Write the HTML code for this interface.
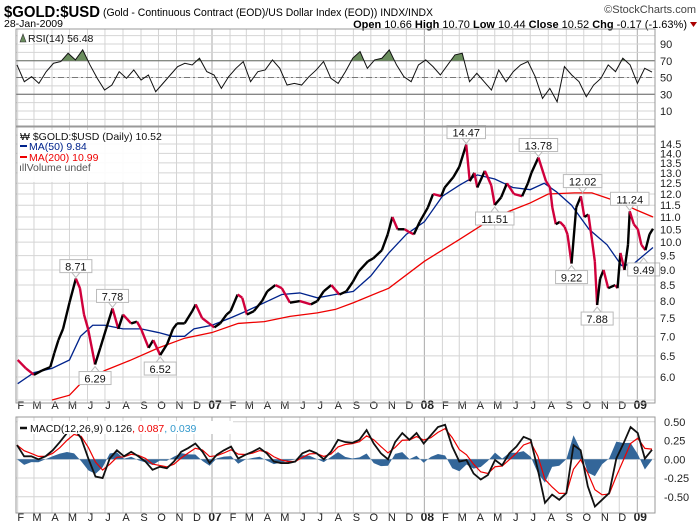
<!DOCTYPE html>
<html><head><meta charset="utf-8"><style>
body{margin:0;background:#fff;width:700px;height:530px;overflow:hidden;font-family:"Liberation Sans",sans-serif}
svg{position:absolute;left:0;top:0}
text{font-family:"Liberation Sans",sans-serif}
</style></head><body>
<svg id="c" width="700" height="530">
<text x="4" y="17" font-size="16" font-weight="bold" textLength="96" lengthAdjust="spacingAndGlyphs">$GOLD:$USD</text>
<text x="103" y="16" font-size="11" textLength="330" lengthAdjust="spacingAndGlyphs">(Gold - Continuous Contract (EOD)/US Dollar Index (EOD)) INDX/INDX</text>
<text x="696" y="13" font-size="11" fill="#444" text-anchor="end">©StockCharts.com</text>
<text x="4" y="27" font-size="10.5">28-Jan-2009</text>
<text x="687" y="28" font-size="11" text-anchor="end"><tspan font-weight="bold">Open</tspan> 10.66 <tspan font-weight="bold">High</tspan> 10.70 <tspan font-weight="bold">Low</tspan> 10.44 <tspan font-weight="bold">Close</tspan> 10.52 <tspan font-weight="bold">Chg</tspan> -0.17 (-1.63%)</text>
<path d="M690,22 L697,22 L693.5,27 Z" fill="#a00"/>
<g id="g"></g>
</svg>
<script>
// ---- data ----
const priceDates=["2006-02-01","2006-02-15","2006-03-01","2006-03-15","2006-03-29","2006-04-05","2006-04-12","2006-04-20","2006-05-01","2006-05-12","2006-05-19","2006-05-26","2006-06-02","2006-06-14","2006-06-23","2006-07-03","2006-07-14","2006-07-24","2006-08-01","2006-08-15","2006-08-25","2006-09-01","2006-09-14","2006-09-22","2006-10-04","2006-10-16","2006-10-26","2006-11-02","2006-11-15","2006-11-28","2006-12-04","2006-12-15","2006-12-27","2007-01-05","2007-01-15","2007-01-26","2007-02-02","2007-02-14","2007-02-22","2007-03-02","2007-03-14","2007-03-28","2007-04-06","2007-04-20","2007-05-01","2007-05-15","2007-06-01","2007-06-20","2007-07-01","2007-07-12","2007-07-25","2007-08-08","2007-08-20","2007-08-31","2007-09-10","2007-09-26","2007-10-05","2007-10-20","2007-10-30","2007-11-07","2007-11-16","2007-11-28","2007-12-05","2007-12-14","2007-12-24","2008-01-07","2008-01-16","2008-01-30","2008-02-05","2008-02-20","2008-03-01","2008-03-13","2008-03-19","2008-03-27","2008-04-01","2008-04-14","2008-04-25","2008-05-01","2008-05-12","2008-05-22","2008-06-03","2008-06-17","2008-06-27","2008-07-03","2008-07-15","2008-07-28","2008-08-04","2008-08-08","2008-08-14","2008-08-21","2008-08-29","2008-09-03","2008-09-10","2008-09-18","2008-09-26","2008-10-02","2008-10-09","2008-10-15","2008-10-20","2008-10-24","2008-10-29","2008-11-04","2008-11-12","2008-11-24","2008-11-28","2008-12-03","2008-12-10","2008-12-16","2008-12-19","2008-12-26","2009-01-02","2009-01-08","2009-01-15","2009-01-22","2009-01-28"];
const priceValues=[6.4,6.2,6.05,6.15,6.23,6.57,6.9,7.2,7.95,8.71,8.4,7.6,7.2,6.29,6.7,7.2,7.78,7.2,7.6,7.35,7.4,7.2,6.7,6.9,6.52,6.8,7.2,7.35,7.35,7.7,7.9,7.5,7.35,7.24,7.35,7.6,7.7,8.2,8.1,7.6,7.7,8.0,8.3,8.5,8.4,7.95,8.0,7.9,8.0,8.3,8.5,8.2,8.3,8.6,8.95,9.3,9.4,9.7,10.3,11.0,10.5,10.5,10.4,10.3,10.8,11.4,12.0,11.9,12.3,12.8,13.3,14.47,12.6,13.0,12.3,13.1,12.4,11.51,11.85,12.5,12.0,11.9,12.5,13.0,13.78,12.6,12.3,11.4,10.7,10.8,10.6,10.3,9.22,11.4,11.9,11.0,11.1,10.1,9.3,7.88,8.7,9.0,8.4,8.5,8.4,9.6,9.0,9.9,11.24,10.7,10.5,9.9,9.7,10.3,10.52];
const ma50Dates=["2006-02-01","2006-03-01","2006-04-01","2006-05-01","2006-05-20","2006-06-10","2006-07-01","2006-08-01","2006-09-01","2006-10-01","2006-10-25","2006-11-15","2006-12-01","2007-01-01","2007-02-01","2007-03-01","2007-04-01","2007-05-01","2007-06-01","2007-07-01","2007-08-01","2007-09-01","2007-10-01","2007-11-01","2007-12-01","2008-01-01","2008-02-01","2008-03-01","2008-04-01","2008-05-01","2008-06-01","2008-07-01","2008-07-25","2008-08-15","2008-09-10","2008-10-10","2008-11-10","2008-12-05","2008-12-25","2009-01-28"];
const ma50Values=[5.85,6.1,6.2,6.4,7.0,7.3,7.3,7.2,7.2,7.1,7.0,7.0,7.2,7.3,7.5,7.7,7.95,8.2,8.25,8.1,8.2,8.3,8.8,9.6,10.3,10.8,11.9,12.4,12.9,12.7,12.3,12.2,12.5,12.1,11.5,10.5,9.9,9.15,9.2,9.8];
const ma200Dates=["2006-04-01","2006-05-01","2006-05-20","2006-07-01","2006-08-15","2006-10-01","2006-11-15","2007-01-01","2007-02-15","2007-04-01","2007-05-15","2007-07-01","2007-08-01","2007-09-01","2007-11-01","2008-01-01","2008-03-01","2008-05-01","2008-07-01","2008-08-01","2008-09-15","2008-10-15","2008-12-05","2008-12-30","2009-01-28"];
const ma200Values=[5.5,5.6,5.85,6.15,6.4,6.7,6.95,7.1,7.35,7.4,7.55,7.65,7.75,7.95,8.4,9.3,10.1,11.0,11.6,12.0,12.05,12.05,11.6,11.3,11.0];
const rsiValues=[65,45,51,43,57,67,69,79,71,83,65,49,35,41,57,49,59,47,53,33,43,53,63,67,65,73,57,53,37,51,61,69,45,57,59,71,61,41,43,41,51,59,69,49,43,57,73,81,61,71,73,83,65,51,45,65,71,63,53,65,77,79,45,55,45,35,59,45,57,65,69,51,25,37,21,63,53,45,27,41,49,65,57,73,65,43,61,56.5];
const macdValues=[0.19,0.04,0.04,0,0.04,0.12,0.23,0.35,0.41,0.28,0.01,-0.23,-0.25,0.01,0.12,0.04,0.10,0.04,-0.03,-0.14,-0.10,-0.12,-0.03,0.10,0.15,0.21,0.10,-0.05,0.06,0.12,0.17,0.01,0.06,0.10,0.15,0.08,-0.03,-0.05,-0.05,-0.03,0.08,0.12,0.08,0,0.10,0.26,0.23,0.22,0.26,0.39,0.21,0.08,0,0.23,0.35,0.26,0.35,0.21,0.32,0.43,0.46,0.17,-0.03,-0.01,-0.19,-0.27,-0.21,-0.01,-0.08,0.08,0.17,0.30,0.26,-0.14,-0.58,-0.47,-0.54,-0.45,0.19,0.12,-0.36,-0.63,-0.54,-0.45,0.01,0.21,0.43,0.35,0.01,0.126];
const priceTicks=[6.0,6.5,7.0,7.5,8.0,8.5,9.0,9.5,10.0,10.5,11.0,11.5,12.0,12.5,13.0,13.5,14.0,14.5];
const rsiTicks=[90,70,50,30,10];
const macdTicks=[0.5,0.25,0,-0.25,-0.5];
const monthLabels=["F","M","A","M","J","J","A","S","O","N","D","07","F","M","A","M","J","J","A","S","O","N","D","08","F","M","A","M","J","J","A","S","O","N","D","09"];
const peakLabels=[["2006-05-12",8.71,1],["2006-06-14",6.29,0],["2006-07-14",7.78,1],["2006-10-04",6.52,0],["2008-03-13",14.47,1],["2008-05-01",11.51,0],["2008-07-15",13.78,1],["2008-09-10",9.22,0],["2008-09-29",12.02,1],["2008-10-24",7.88,0],["2008-12-19",11.24,1],["2009-01-12",9.49,0]];

// ---- axes ----
const L=16,R=655;
const T0=Date.UTC(2007,0,1);
function X(d){const p=d.split('-');return 212+(Date.UTC(+p[0],+p[1]-1,+p[2])-T0)/864e5/365.25*212.5;}
function Y(p){return 377-264*Math.log(p/6);}
function RY(v){return 44+(90-v)*0.8375;}
function MY(v){return 459.3-v*75;}
const NS="http://www.w3.org/2000/svg",g=document.getElementById('g');
function el(t,a,par){const e=document.createElementNS(NS,t);for(const k in a)e.setAttribute(k,a[k]);(par||g).appendChild(e);return e;}

const panels=[[29,126],[127,403],[417,513]];
for(let i=0;i<36;i++){
  const y=2006+Math.floor((i+1)/12),m=(i+1)%12;
  const x=212+((Date.UTC(y,m,1)-T0)/864e5/365.25)*212.5;
  const yr=m===0;
  panels.forEach(p=>{const ln=el('line',{x1:x,x2:x,y1:p[0],y2:p[1],stroke:yr?'#aaa':'#d4d4d4','stroke-width':1});
    
    });
  [409,521].forEach(ty=>{const t=el('text',{x:x+3,y:ty,'font-size':yr?12:11,'font-weight':yr?'bold':'normal','text-anchor':'middle',fill:'#222'});
    t.textContent=monthLabels[i];
    
    });
}
for(let p=5.5;p<=17.01;p+=0.5){const y=Y(p);if(y<127||y>403)continue;
  const ln=el('line',{x1:L,x2:R,y1:y,y2:y,stroke:'#d4d4d4'});
  
  }
priceTicks.forEach(p=>{const t=el('text',{x:660,y:Y(p)+4,'font-size':11,fill:'#222'});t.textContent=p.toFixed(1);
  
  });
for(let v=100;v>=0;v-=10){const y=RY(v);if(y<29||y>126)continue;
  const ln=el('line',{x1:L,x2:R,y1:y,y2:y,stroke:'#d4d4d4'});
  
  }
rsiTicks.forEach(v=>{const t=el('text',{x:660,y:RY(v)+4,'font-size':11,fill:'#222'});t.textContent=v;
  
  });
[70,30].forEach(v=>{const ln=el('line',{x1:L,x2:R,y1:RY(v),y2:RY(v),stroke:'#666'});
  
  });
const mid=el('line',{x1:L,x2:R,y1:RY(50),y2:RY(50),stroke:'#777','stroke-dasharray':'6,3,2,3'});


macdTicks.forEach(v=>{const ln=el('line',{x1:L,x2:R,y1:MY(v),y2:MY(v),stroke:'#d4d4d4'});
  
  
  const t=el('text',{x:664,y:MY(v)+4,'font-size':11,fill:'#222'});t.textContent=(v<0?'-':'')+Math.abs(v).toFixed(2);
  
  });

// ---- RSI ----
const rx=i=>17+i*(652-17)/(rsiValues.length-1);
let rp=rsiValues.map((v,i)=>rx(i)+','+RY(v)).join(' ');
const cp=el('clipPath',{id:'rclip'});el('rect',{x:L,y:29,width:R-L,height:RY(70)-29},cp);
const of=el('polygon',{points:rx(0)+','+RY(70)+' '+rp+' '+rx(rsiValues.length-1)+','+RY(70),fill:'#6b8e5e','clip-path':'url(#rclip)'});


const rl=el('polyline',{points:rp,fill:'none',stroke:'#111','stroke-width':1});



// ---- MAs ----
const m200=el('polyline',{points:ma200Dates.map((d,i)=>X(d)+','+Y(ma200Values[i])).join(' '),fill:'none',stroke:'#e00','stroke-width':1.3});


const m50=el('polyline',{points:ma50Dates.map((d,i)=>X(d)+','+Y(ma50Values[i])).join(' '),fill:'none',stroke:'#00238c','stroke-width':1.3});


// ---- price ----
for(let i=1;i<priceValues.length;i++){
  const up=priceValues[i]>=priceValues[i-1];
  const s=el('line',{x1:X(priceDates[i-1]),y1:Y(priceValues[i-1]),x2:X(priceDates[i]),y2:Y(priceValues[i]),stroke:up?'#000':'#d0003c','stroke-width':2.4});
  
  
}
peakLabels.forEach(([d,v,top])=>{
  const x=X(d),y=Y(v),txt=v.toFixed(2),w=txt.length*6.5+6;
  const by=top?y-19:y+7;
  const gg=el('g',{});
  
  
  el('rect',{x:x-w/2,y:by,width:w,height:13,fill:'#fff',stroke:'#bbb'},gg);
  const tr=top?`M${x-4},${by+13} L${x+4},${by+13} L${x},${by+18} Z`:`M${x-4},${by} L${x+4},${by} L${x},${by-5} Z`;
  el('path',{d:tr,fill:'#fff',stroke:'#bbb'},gg);
  const t=el('text',{x:x,y:by+11,'font-size':11,'text-anchor':'middle',fill:'#111'},gg);t.textContent=txt;
});

// ---- MACD ----
const mx=i=>17+i*(652-17)/(macdValues.length-1);
const sig=[];macdValues.forEach((v,i)=>sig.push(i?sig[i-1]+0.5*(v-sig[i-1]):v));
const hist=macdValues.map((v,i)=>v-sig[i]);
const hp=el('polygon',{points:mx(0)+','+MY(0)+' '+hist.map((h,i)=>mx(i)+','+MY(h)).join(' ')+' '+mx(hist.length-1)+','+MY(0),fill:'#336699'});


const sl=el('polyline',{points:sig.map((v,i)=>mx(i)+','+MY(v)).join(' '),fill:'none',stroke:'#e00','stroke-width':1.2});


const ml=el('polyline',{points:macdValues.map((v,i)=>mx(i)+','+MY(v)).join(' '),fill:'none',stroke:'#111','stroke-width':1.8});



panels.forEach(p=>{const r=el('rect',{x:L,y:p[0],width:R-L,height:p[1]-p[0],fill:'none',stroke:'#999'});
  
  });

function lt(x,y,s,c,name){const t=el('text',{x:x,y:y,fill:c||'#111','font-family':'DejaVu Sans','font-size':10.5});t.textContent=s;
  
  return t;}
el('rect',{x:18,y:32,width:15,height:12,fill:'#fff'});
el('path',{d:'M20,42 L23,34 L26,42 Z',fill:'#6b8e5e',stroke:'#333','stroke-width':0.6});
lt(28,42,'RSI(14) 56.48','#111','rsi-legend');
el('rect',{x:18,y:130,width:140,height:52,fill:'#fff',opacity:0.9});
lt(20,140,'₩ $GOLD:$USD (Daily) 10.52','#111','price-legend');
el('line',{x1:20,x2:27,y1:146,y2:146,stroke:'#00238c','stroke-width':2});
lt(29,150,'MA(50) 9.84','#00238c','ma50-legend');
el('line',{x1:20,x2:27,y1:157,y2:157,stroke:'#e00','stroke-width':2});
lt(29,161,'MA(200) 10.99','#e00','ma200-legend');
lt(19,171,'ıllVolume undef','#555','volume-legend');
el('rect',{x:18,y:421,width:215,height:13,fill:'#fff'});
el('line',{x1:20,x2:27,y1:428,y2:428,stroke:'#111','stroke-width':2.5});
const mt=lt(30,432,'MACD(12,26,9) 0.126','#111','macd-legend');
const a=el('tspan',{fill:'#e00'},mt);a.textContent=', 0.087';
const b=el('tspan',{fill:'#39c'},mt);b.textContent=', 0.039';
</script>
</body></html>
